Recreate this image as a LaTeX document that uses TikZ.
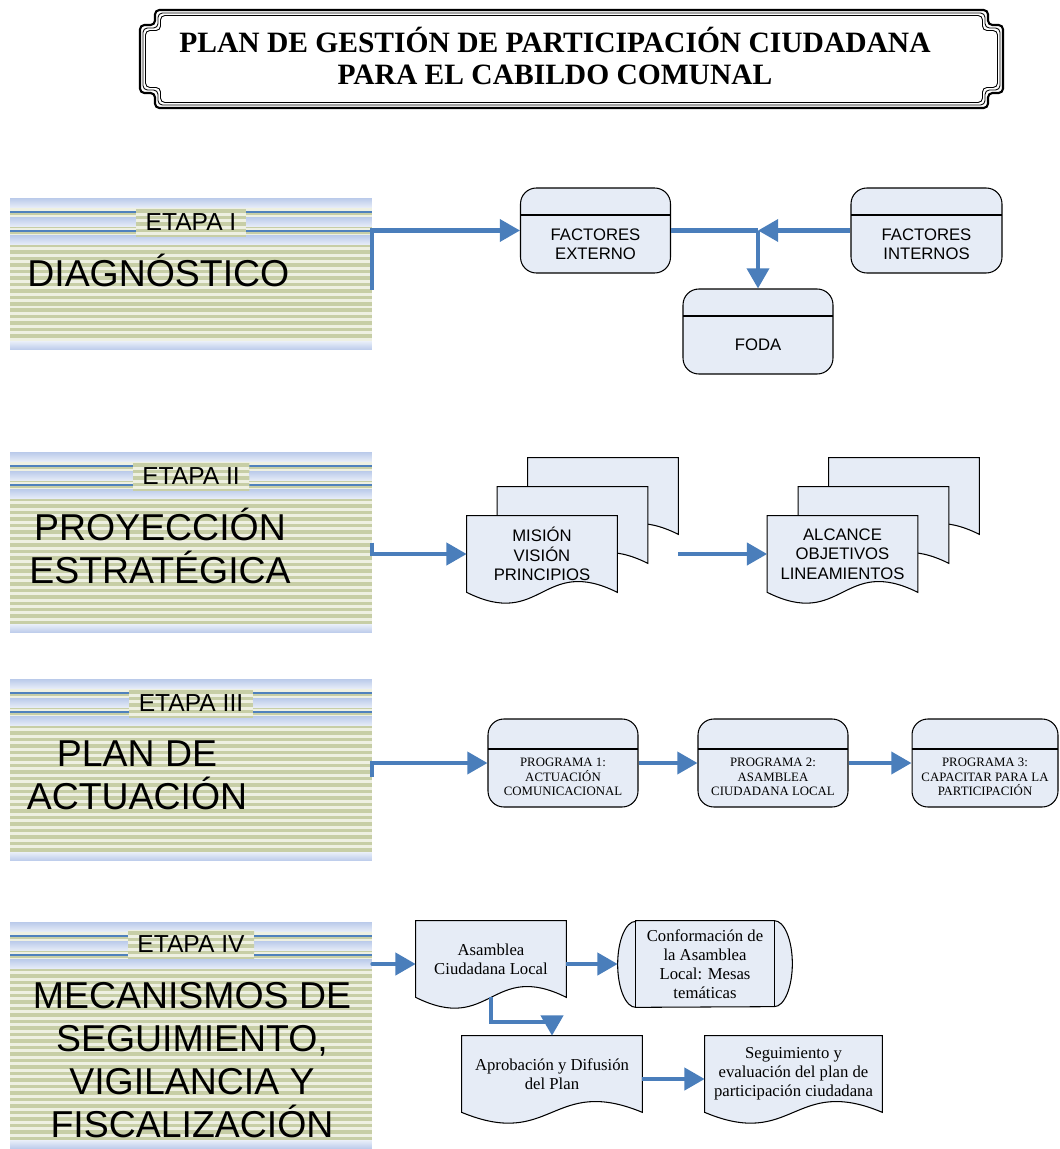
\documentclass[tikz,border=0pt]{standalone}
\usepackage{fontspec}
\setmainfont{Liberation Serif}
\setsansfont{Liberation Sans}
\usetikzlibrary{arrows.meta,calc,backgrounds}

\definecolor{flowblue}{RGB}{74,126,187}
\definecolor{boxfill}{RGB}{230,236,246}
\definecolor{ggreen}{RGB}{199,206,166}
\definecolor{gcream}{RGB}{238,240,226}
\definecolor{bband}{RGB}{186,202,234}
\definecolor{bpale}{RGB}{231,237,248}
\definecolor{bline}{RGB}{79,129,189}

\tikzset{
  flow/.style={draw=flowblue,line width=2.3pt,-{Triangle[length=11.5pt,width=12.5pt]}},
  flowline/.style={draw=flowblue,line width=2.3pt},
  divider/.store in=\divdepth,
  divider=0.54cm,
  procbox/.style={draw,line width=0.6pt,fill=boxfill,rounded corners=9pt,minimum width=3cm,minimum height=1.7cm,
    path picture={\draw[line width=0.6pt] ([yshift=-\divdepth]path picture bounding box.north west) -- ([yshift=-\divdepth]path picture bounding box.north east);}},
  docnode/.style={minimum width=3cm,minimum height=1.52cm,inner sep=0pt,align=center},
  docline/.style={draw=black,line width=0.6pt},
  boxsans/.style={font=\fontsize{9.5}{11}\selectfont\sffamily,align=center,inner sep=0pt},
  progtext/.style={font=\fontsize{7.3}{8.2}\selectfont,align=center,inner sep=0pt},
  mechtext/.style={font=\fontsize{9.5}{10.8}\selectfont,align=center},
  bigtext/.style={font=\fontsize{21.3}{24.4}\selectfont\sffamily,align=center,inner sep=0pt},
  titlefont/.style={font=\fontsize{16.8}{18.2}\selectfont\bfseries,align=center,inner sep=0pt},
  panel/.style={fill=gcream,minimum width=7.24cm,inner sep=0pt,path picture={
    \foreach \k in {0,...,40}
      \fill[ggreen] ([yshift=-\k*0.13cm]path picture bounding box.north west) rectangle ++(7.24cm,-0.07cm);
    \foreach \s in {0,0.38,0.74}
      \shade[top color=bband,bottom color=bpale] ([yshift=-\s*1cm]path picture bounding box.north west) rectangle ++(7.24cm,-0.19cm);
    \shade[top color=bpale,bottom color=bband] (path picture bounding box.south west) rectangle ++(7.24cm,0.17cm);
    \draw[bline,line width=1pt] ([yshift=-0.28cm]path picture bounding box.north west) -- ++(7.24cm,0cm);
    \draw[bline,line width=1pt] ([yshift=-0.66cm]path picture bounding box.north west) -- ++(7.24cm,0cm);
  }},
  labbox/.style={fill=gcream,font=\fontsize{14}{16}\selectfont\sffamily,inner xsep=5.5pt,inner ysep=0pt,
    text height=10pt,text depth=0pt,minimum height=0.58cm,path picture={
    \foreach \k in {0,...,5}
      \fill[ggreen] ([yshift=-\k*0.13cm-0.03cm]path picture bounding box.north west) rectangle ++(5cm,-0.07cm);
  }}
}

\begin{document}
\begin{tikzpicture}[x=0.02cm,y=-0.02cm]
  \useasboundingbox (0,0) rectangle (1059,1149);

  % title frame
  \foreach \i/\w in {0/1.2pt,3/0.5pt,5.5/0.5pt}
    \draw[line width=\w,rounded corners=2.5pt]
      ({155+\i},{10+\i}) -- ({988-\i},{10+\i}) -- ({988-\i},{25+\i}) -- ({1003-\i},{25+\i})
      -- ({1003-\i},{93-\i}) -- ({988-\i},{93-\i}) -- ({988-\i},{108-\i}) -- ({155+\i},{108-\i})
      -- ({155+\i},{93-\i}) -- ({140+\i},{93-\i}) -- ({140+\i},{25+\i}) -- ({155+\i},{25+\i}) -- cycle;
  \node[titlefont] (title) at (555,56) {PLAN DE GESTIÓN DE PARTICIPACIÓN CIUDADANA\\PARA EL CABILDO COMUNAL};

  % etapas
  \node[panel,minimum height=3.04cm] (et1) at (191,274) {};
  \node[labbox] (lab1) at (191,222) {ETAPA I};
  \node[bigtext,anchor=base west] (tit1) at (27,286) {DIAGNÓSTICO};

  \node[panel,minimum height=3.62cm] (et2) at (191,542.5) {};
  \node[labbox] (lab2) at (191,476) {ETAPA II};
  \node[bigtext] (tit2) at (160,546) {PROYECCIÓN\\ESTRATÉGICA};

  \node[panel,minimum height=3.64cm] (et3) at (191,770) {};
  \node[labbox] (lab3) at (191,703) {ETAPA III};
  \node[bigtext] (tit3) at (137,775) {PLAN DE\\ACTUACIÓN};

  \node[panel,minimum height=4.54cm] (et4) at (191,1035.5) {};
  \node[labbox] (lab4) at (191,944) {ETAPA IV};
  \node[bigtext] (tit4) at (192,1060) {MECANISMOS DE\\SEGUIMIENTO,\\VIGILANCIA Y\\FISCALIZACIÓN};

  % diagnostico
  \node[procbox] (fext) at (595.5,230.5) {};
  \node[boxsans] (fext-t) at ([yshift=-0.28cm]fext.center) {FACTORES\\EXTERNO};
  \node[procbox,minimum width=3.02cm] (fint) at (926.5,230.5) {};
  \node[boxsans] (fint-t) at ([yshift=-0.28cm]fint.center) {FACTORES\\INTERNOS};
  \node[procbox] (foda) at (758,331.5) {};
  \node[boxsans] (foda-t) at ([yshift=-0.27cm]foda.center) {FODA};

  % proyeccion
  \node[docnode] (mis3) at (603,496) {};
  \node[docnode] (mis2) at (572.5,525) {};
  \node[docnode,boxsans] (mis1) at (542,554) {MISIÓN\\VISIÓN\\PRINCIPIOS};
  \node[docnode] (alc3) at (904,496) {};
  \node[docnode] (alc2) at (873.5,525) {};
  \node[docnode,boxsans] (alc1) at (842.5,554) {ALCANCE\\OBJETIVOS\\LINEAMIENTOS};

  % actuacion
  \node[procbox,divider=0.6cm,minimum height=1.76cm] (prog1) at (563,763) {};
  \node[progtext] (prog1-t) at ([yshift=-0.28cm]prog1.center) {PROGRAMA 1:\\ACTUACIÓN\\COMUNICACIONAL};
  \node[procbox,divider=0.6cm,minimum height=1.76cm] (prog2) at (773,763) {};
  \node[progtext] (prog2-t) at ([yshift=-0.28cm]prog2.center) {PROGRAMA 2:\\ASAMBLEA\\CIUDADANA LOCAL};
  \node[procbox,divider=0.6cm,minimum height=1.76cm,minimum width=2.92cm] (prog3) at (985,763) {};
  \node[progtext] (prog3-t) at ([yshift=-0.28cm]prog3.center) {PROGRAMA 3:\\CAPACITAR PARA LA\\PARTICIPACIÓN};

  % mecanismos
  \node[docnode,mechtext] (asam) at (491,959) {Asamblea\\Ciudadana Local};
  \node[docnode,mechtext,minimum width=2.76cm,minimum height=1.72cm] (conf) at (705,964) {Conformación de\\la Asamblea\\Local: Mesas\\temáticas};
  \node[docnode,mechtext,minimum width=3.6cm] (aprob) at (552,1074) {Aprobación y Difusión\\del Plan};
  \node[docnode,mechtext,minimum width=3.54cm] (segui) at (793.5,1074) {Seguimiento y\\evaluación del plan de\\participación ciudadana};

  \begin{scope}[on background layer]
    \foreach \d in {mis3,mis2,mis1,alc3,alc2,alc1,asam,aprob,segui}
      \filldraw[docline,fill=boxfill] (\d.north west) -- (\d.north east) -- (\d.south east)
        .. controls ($(\d.south)+(0cm,0.75cm)$) and ($(\d.south)+(0cm,-0.75cm)$) .. (\d.south west) -- cycle;
    \filldraw[docline,fill=boxfill] (conf.north west) -- (conf.north east)
      arc[start angle=90,end angle=-90,x radius=0.36cm,y radius=0.86cm] -- (conf.south west)
      arc[start angle=270,end angle=90,x radius=0.36cm,y radius=0.86cm] -- cycle;
    \draw[docline] (conf.north west) -- (conf.south west) (conf.north east) -- (conf.south east);
  \end{scope}

  % connectors
  \draw[flow] ([yshift=-0.32cm]et1.east) |- (fext.west);
  \coordinate (j1) at (fext.east -| foda.north);
  \draw[flowline] (fext.east) -- (j1);
  \draw[flow] (fint.west) -- (j1);
  \draw[flow] (j1) -- (foda.north);

  \draw[flow] (et2.east) |- (mis1.west);
  \draw[flow] (mis3.east |- mis1.west) -- (alc1.west);

  \draw[flow] ([yshift=-0.14cm]et3.east) |- (prog1.west);
  \draw[flow] (prog1.east) -- (prog2.west);
  \draw[flow] (prog2.east) -- (prog3.west);

  \draw[flow,line cap=round] (et4.east |- conf.west) -- (asam.west |- conf.west);
  \draw[flow] (asam.east |- conf.west) -- ([xshift=-0.36cm]conf.west);
  \draw[flow] (asam.south) -- ++(0,25) -| (aprob.north);
  \draw[flow] ([yshift=-0.1cm]aprob.east) -- ([yshift=-0.1cm]segui.west);
\end{tikzpicture}
\end{document}
